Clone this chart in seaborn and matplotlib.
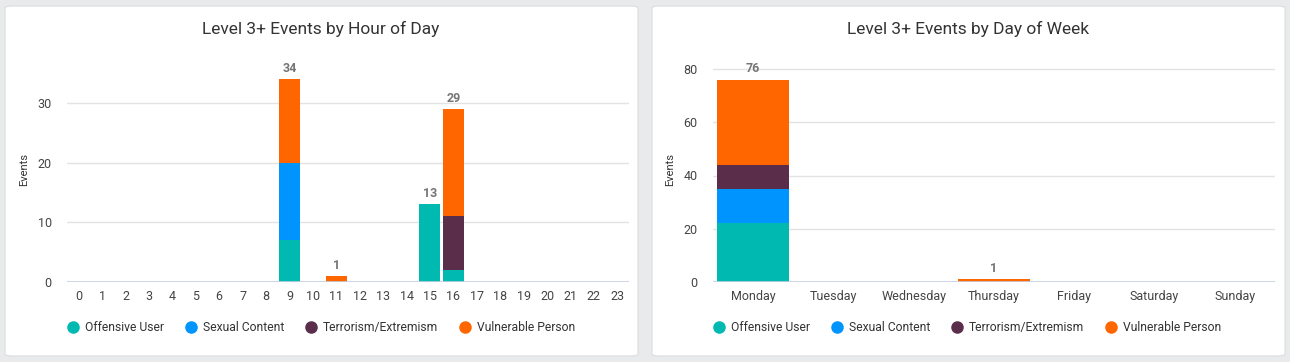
import numpy as np
import pandas as pd
import matplotlib
matplotlib.use('Agg')
import matplotlib.pyplot as plt
from matplotlib.patches import FancyBboxPatch
from matplotlib.lines import Line2D
import seaborn as sns

# DATA ##########################################################################
categories = ['Offensive User', 'Sexual Content', 'Terrorism/Extremism', 'Vulnerable Person']
colors = ['#00b9b1', '#0094ff', '#5a2d4b', '#ff6600']

hours = [str(h) for h in range(24)]
hour_offensive = [0]*9 + [7] + [0]*5 + [13, 2] + [0]*7
hour_sexual = [0]*9 + [13] + [0]*14
hour_terror = [0]*16 + [9] + [0]*7
hour_vulnerable = [0]*9 + [14, 0, 1, 0, 0, 0, 0, 18] + [0]*7

days = ['Monday', 'Tuesday', 'Wednesday', 'Thursday', 'Friday', 'Saturday', 'Sunday']
day_offensive = [22, 0, 0, 0, 0, 0, 0]
day_sexual = [13, 0, 0, 0, 0, 0, 0]
day_terror = [9, 0, 0, 0, 0, 0, 0]
day_vulnerable = [32, 0, 0, 1, 0, 0, 0]

hour_df = pd.DataFrame({'x': hours, categories[0]: hour_offensive, categories[1]: hour_sexual,
                        categories[2]: hour_terror, categories[3]: hour_vulnerable})
day_df = pd.DataFrame({'x': days, categories[0]: day_offensive, categories[1]: day_sexual,
                       categories[2]: day_terror, categories[3]: day_vulnerable})

# STYLE #########################################################################
sns.set_style('white')
plt.rcParams['font.family'] = ['Roboto', 'DejaVu Sans']

fig = plt.figure(figsize=(12.9, 3.62), dpi=100)
fig.patch.set_facecolor('#e9eaec')

# cards
for x0 in [5, 652]:
    card = FancyBboxPatch((x0/1290, 6/362), 633/1290, 350/362,
                          boxstyle='round,pad=0,rounding_size=0.006',
                          transform=fig.transFigure, facecolor='white',
                          edgecolor='#dcdcdc', linewidth=0.8, zorder=-5)
    fig.patches.append(card)


def stacked(ax, df, yticks, ymax, title, card_cx):
    ax.set_zorder(2)
    ax.patch.set_alpha(0)
    cum = df[categories].cumsum(axis=1)
    # draw from the top layer down so lower segments cover the taller bars
    for i in range(len(categories)-1, -1, -1):
        sns.barplot(x=df['x'], y=cum[categories[i]], color=colors[i], saturation=1,
                    width=0.9, errorbar=None, linewidth=0, ax=ax, zorder=3)
    totals = cum[categories[-1]].values
    ax.bar_label(ax.containers[0], labels=[str(t) if t else '' for t in totals],
                 padding=3, fontsize=9, fontweight='bold', color='#757575')
    ax.set_ylim(0, ymax)
    ax.set_yticks(yticks)
    ax.set_xlim(-0.5, len(df)-0.5)
    ax.grid(axis='y', color='#e3e3e3', linewidth=1, zorder=0)
    ax.set_axisbelow(True)
    ax.axhline(0, color='#c7d0e4', linewidth=1.2, zorder=4)
    sns.despine(ax=ax, left=True, bottom=True)
    ax.tick_params(axis='both', length=0, labelsize=9, colors='#444444')
    ax.tick_params(axis='y', pad=11)
    ax.tick_params(axis='x', pad=6)
    ax.set_xlabel('')
    ax.set_ylabel('Events', fontsize=8, color='#333333', labelpad=6)
    fig.text(card_cx/1290, 1-29/362, title, ha='center', va='center',
             fontsize=12.5, color='#333333')
    handles = [Line2D([], [], marker='o', linestyle='', markersize=8,
                      markerfacecolor=c, markeredgecolor=c) for c in colors]
    ax.legend(handles, categories, loc='center left', ncol=4, frameon=False,
              bbox_to_anchor=(0.0, -0.205), fontsize=8.7, handletextpad=0.5,
              columnspacing=1.7, labelcolor='#333333', handlelength=1.0,
              borderaxespad=0, borderpad=0)


ax1 = fig.add_axes([67/1290, 80/362, 562/1290, 224/362])
stacked(ax1, hour_df, [0, 10, 20, 30], 224/5.97, 'Level 3+ Events by Hour of Day', 321)

ax2 = fig.add_axes([713/1290, 80/362, 562/1290, 224/362])
stacked(ax2, day_df, [0, 20, 40, 60, 80], 224/2.6625, 'Level 3+ Events by Day of Week', 968)

plt.savefig('out.png', dpi=100, facecolor=fig.get_facecolor())
